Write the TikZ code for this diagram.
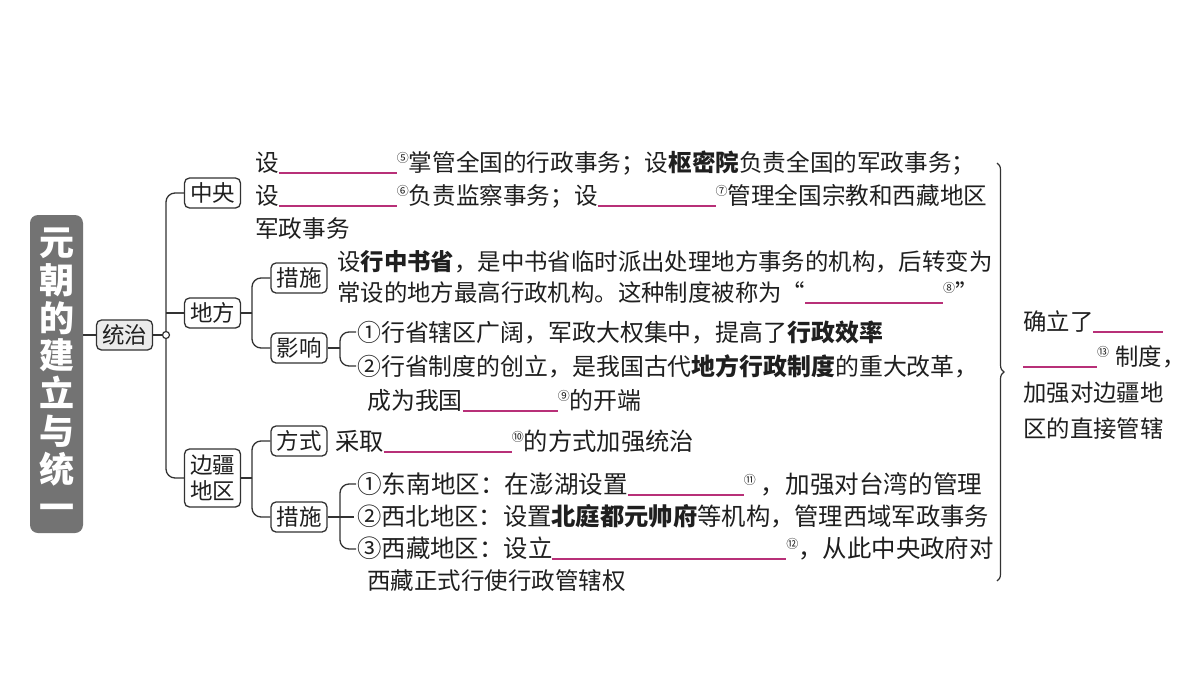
\documentclass[tikz,border=0pt]{standalone}
\usepackage{fontspec}
\setmainfont{Noto Sans CJK SC}
\usetikzlibrary{decorations.pathreplacing}
\definecolor{pk}{RGB}{184,48,120}
\definecolor{ln}{RGB}{50,50,50}
\definecolor{tg}{RGB}{115,115,115}
\newcommand\blank[1]{{\color{pk}\rule[-2.5pt]{#1pt}{1.3pt}}}
\newcommand\sn[1]{\raisebox{9pt}{\fontsize{12}{12}\selectfont #1}}
\newcommand\cn[1]{\makebox[1em][c]{#1}}
\begin{document}
\begin{tikzpicture}[x=1pt,y=-1pt,
  txt/.style={anchor=base west, inner sep=0pt, font=\fontsize{23.4}{28}\selectfont, text=black!88},
  fsz/.style={font=\fontsize{#1}{28}\selectfont},
  bx/.style={draw=ln, line width=1.3pt, rounded corners=5pt, minimum width=56pt, minimum height=30pt, inner sep=1pt, font=\fontsize{22.5}{25}\selectfont, fill=white, text=black!88},
  conn/.style={draw=ln, line width=1.3pt}]
\useasboundingbox (0,0) rectangle (1200,675);
\fill[white] (0,0) rectangle (1200,675);
% title
\node[fill=tg, rounded corners=8pt, minimum width=53pt, minimum height=318pt, inner sep=0pt, text=white,
      font=\bfseries\fontsize{35}{37.8}\selectfont, align=center] (title) at (56.5,374) {元\\朝\\的\\建\\立\\与\\统\\一};
% boxes
\node[bx, fill=black!8] (tz) at (124.5,335) {统治};
\node[draw=ln, line width=1.2pt, circle, inner sep=0pt, minimum size=7pt, fill=white] (c) at (166,335) {};
\node[bx] (zy) at (212.5,193) {中央};
\node[bx] (df) at (212.5,313) {地方};
\node[bx, minimum height=58pt, align=center, font=\fontsize{22.5}{26}\selectfont] (bj) at (212.5,478) {边疆\\地区};
\node[bx] (cs1) at (299,278) {措施};
\node[bx] (yx) at (299,348) {影响};
\node[bx] (fs) at (299,441) {方式};
\node[bx] (cs2) at (299,517) {措施};
% connectors
\draw[conn] (title.east |- tz.west) -- (tz.west);
\draw[conn] (tz.east) -- (c.west);
\draw[conn, rounded corners=9pt] (c.north) |- (zy.west);
\draw[conn, rounded corners=9pt] (c.south) |- (bj.west);
\draw[conn] (c |- df.west) -- (df.west);
\coordinate (j1) at (252,313);
\coordinate (j2) at (252,478);
\draw[conn] (df.east) -- (j1);
\draw[conn, rounded corners=9pt] (j1) |- (cs1.west);
\draw[conn, rounded corners=9pt] (j1) |- (yx.west);
\draw[conn] (bj.east) -- (j2);
\draw[conn, rounded corners=9pt] (j2) |- (fs.west);
\draw[conn, rounded corners=9pt] (j2) |- (cs2.west);
\coordinate (k1) at (340,348);
\coordinate (k1a) at (356,332);
\coordinate (k1b) at (356,366);
\draw[conn] (yx.east) -- (k1);
\draw[conn, rounded corners=9pt] (k1) |- (k1a);
\draw[conn, rounded corners=9pt] (k1) |- (k1b);
\coordinate (k2) at (340,517);
\coordinate (k2m) at (354,517);
\coordinate (k2a) at (356,484);
\coordinate (k2b) at (356,549);
\draw[conn] (cs2.east) -- (k2m);
\draw[conn, rounded corners=9pt] (k2) |- (k2a);
\draw[conn, rounded corners=9pt] (k2) |- (k2b);
% brace
\coordinate (bt) at (997,163);
\coordinate (bb) at (997,581);
\draw[conn, line width=1.2pt, decorate, decoration={brace, amplitude=7pt}] (bt) -- (bb);
% texts
\node[txt, fsz=23.6] (t1) at (255,171) {设\blank{118}\sn{⑤}掌管全国的行政事务；设\textbf{枢密院}负责全国的军政事务；};
\node[txt, fsz=23.6] (t2) at (255,204) {设\blank{118}\sn{⑥}负责监察事务；设\blank{118}\sn{⑦}管理全国宗教和西藏地区};
\node[txt, fsz=23.6] (t3) at (255,237) {军政事务};
\node[txt] (t4) at (337,270) {设\textbf{行中书省}，是中书省临时派出处理地方事务的机构，后转变为};
\node[txt] (t5) at (337,301) {常设的地方最高行政机构。这种制度被称为\makebox[23.4pt][r]{“}\blank{138}\sn{⑧}\makebox[8pt][l]{”}};
\node[txt, fsz=23.9] (t6) at (357,341) {\cn{①}行省辖区广阔，军政大权集中，提高了\textbf{行政效率}};
\node[txt, fsz=23.9] (t7) at (357,375) {\cn{②}行省制度的创立，是我国古代\textbf{地方行政制度}的重大改革，};
\node[txt, fsz=23.9] (t8) at (367,409) {成为我国\blank{95}\sn{⑨}的开端};
\node[txt, fsz=24.3] (t9) at (335,450) {采取\blank{128}\sn{⑩}的方式加强统治};
\node[txt, fsz=24.6] (t10) at (357,493) {\cn{①}东南地区：在澎湖设置\blank{116}\sn{⑪}\hspace{5pt}，加强对台湾的管理};
\node[txt, fsz=24.3] (t11) at (357,525) {\cn{②}西北地区：设置\textbf{北庭都元帅府}等机构，管理西域军政事务};
\node[txt, fsz=24.4] (t12) at (357,557) {\cn{③}西藏地区：设立\blank{234}\sn{⑫}，从此中央政府对};
\node[txt, fsz=23.5] (t13) at (367,589) {西藏正式行使行政管辖权};
\node[txt] (r1) at (1023,330) {确立了\blank{70}};
\node[txt] (r2) at (1023,365) {\blank{74}\sn{⑬}\hspace{6pt}制度，};
\node[txt] (r3) at (1023,401) {加强对边疆地};
\node[txt] (r4) at (1023,437) {区的直接管辖};
\end{tikzpicture}
\end{document}
